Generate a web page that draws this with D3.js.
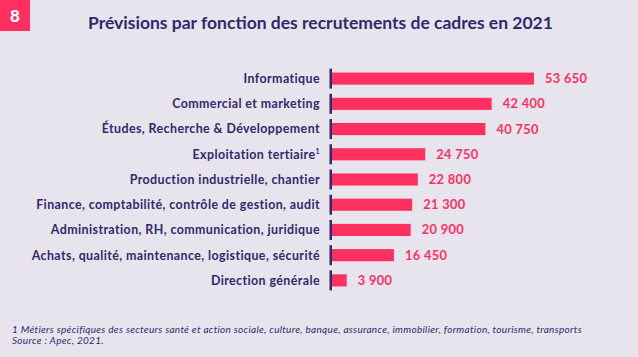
<!DOCTYPE html>
<html><head><meta charset="utf-8">
<script src="https://cdn.jsdelivr.net/npm/d3@7"></script>
<style>
html,body{margin:0;padding:0;background:#e7e4ee;}
svg{display:block;font-family:Lato,"Noto Sans",sans-serif;}
</style></head>
<body><svg id="c" width="638" height="357"></svg>
<script>
const categories = ["Informatique","Commercial et marketing","Études, Recherche & Développement","Exploitation tertiaire","Production industrielle, chantier","Finance, comptabilité, contrôle de gestion, audit","Administration, RH, communication, juridique","Achats, qualité, maintenance, logistique, sécurité","Direction générale"];
const values = [53650,42400,40750,24750,22800,21300,20900,16450,3900];
const superscripts = ["","","","1","","","","",""];
const title = "Prévisions par fonction des recrutements de cadres en 2021";
const chartNumber = "8";
const footnotes = ["1 Métiers spécifiques des secteurs santé et action sociale, culture, banque, assurance, immobilier, formation, tourisme, transports","Source : Apec, 2021."];

const pink = "#ff2f5f", navy = "#2e2a6b";
const svg = d3.select("#c");
svg.append("rect").attr("width",638).attr("height",357).attr("fill","#e7e4ee");
svg.append("rect").attr("x",0).attr("y",0).attr("width",30).attr("height",31).attr("fill",pink);
svg.append("text").attr("x",15).attr("y",22).attr("text-anchor","middle").attr("fill","#fff")
  .attr("font-size",17).attr("font-weight",900).text(chartNumber);
svg.append("text").attr("x",88).attr("y",29).attr("fill",navy).attr("font-size",17.5).attr("font-weight",700).text(title);

const x = d3.scaleLinear().domain([0,53650]).range([332,534]);
const y = d3.scaleBand().domain(categories).range([66,293]).paddingInner(0.52).paddingOuter(0.26);

const g = svg.append("g");
g.selectAll("rect.bar").data(categories).join("rect").attr("class","bar")
  .attr("x",x(0)).attr("y",d=>y(d)).attr("height",y.bandwidth())
  .attr("width",(d,i)=>x(values[i])-x(0)).attr("fill",pink);
g.selectAll("rect.tick").data(categories).join("rect").attr("class","tick")
  .attr("x",329.5).attr("width",2.5).attr("y",d=>y(d)+y.bandwidth()/2-10).attr("height",20).attr("fill",navy);
const lab = g.selectAll("text.lab").data(categories).join("text").attr("class","lab")
  .attr("x",320).attr("y",d=>y(d)+y.bandwidth()/2).attr("dy","0.35em").attr("text-anchor","end")
  .attr("fill",navy).attr("font-size",12.4).attr("font-weight",700).attr("letter-spacing",0.42);
lab.append("tspan").text(d=>d);
lab.append("tspan").attr("font-size",7).attr("dy","-0.7em").text((d,i)=>superscripts[i]);
const fmt = v => d3.format(",")(v).replace(/,/g," ");
g.selectAll("text.val").data(categories).join("text").attr("class","val")
  .attr("x",(d,i)=>x(values[i])+11).attr("y",d=>y(d)+y.bandwidth()/2).attr("dy","0.35em")
  .attr("fill",pink).attr("font-size",12.8).attr("font-weight",700).attr("letter-spacing",0.35).text((d,i)=>fmt(values[i]));

svg.selectAll("text.fn").data(footnotes).join("text").attr("class","fn")
  .attr("x",12).attr("y",(d,i)=>333+i*11).attr("fill",navy).attr("font-size",10).attr("font-style","italic")
  .attr("letter-spacing",0.3).text(d=>d);
</script></body></html>
